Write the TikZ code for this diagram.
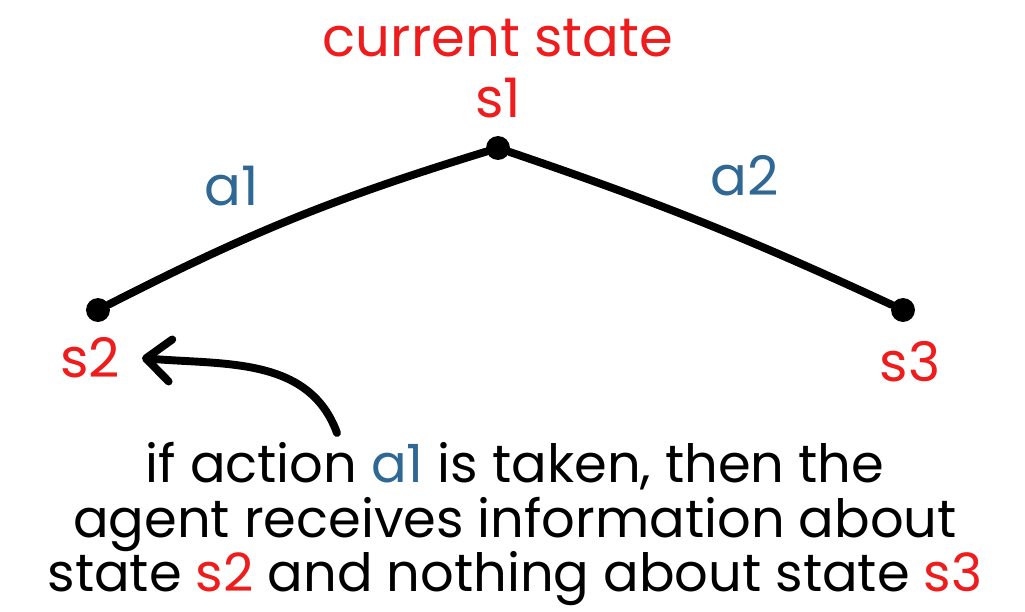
\documentclass[tikz,border=0pt]{standalone}
\usepackage{fontspec}
\setmainfont{Poppins}
\usepackage{tikz}
\usetikzlibrary{arrows.meta}
\definecolor{statered}{HTML}{EE1C1C}
\definecolor{actblue}{HTML}{2F6894}
\tikzset{
  dot/.style={circle, fill=black, inner sep=0pt, minimum size=24pt*0.567},
  edgeline/.style={line width=4.5pt, line cap=round},
  statelab/.style={text=statered, font=\fontsize{31}{34}\selectfont},
  actlab/.style={text=actblue, font=\fontsize{31}{34}\selectfont},
  pointer/.style={line width=4.5pt, line cap=round, -{Straight Barb[length=14pt,width=24pt,round]}}
}

\begin{document}
\begin{tikzpicture}[x=0.02cm, y=-0.02cm]
  \useasboundingbox (0,0) rectangle (1025,612);

  % states
  \node[statelab] (title) at (498,38) {current state};
  \node[statelab] (s1lab) at (498,98) {s1};
  \node[dot] (s1) at (498,148) {};
  \node[dot] (s2) at (98,310) {};
  \node[dot] (s3) at (903,310) {};
  \node[statelab] (s2lab) at (90,358) {s2};
  \node[statelab] (s3lab) at (910,362) {s3};

  % actions
  \draw[edgeline] (s2) to[bend left=5] (s1);
  \draw[edgeline] (s1) to[bend left=3] (s3);
  \node[actlab] (a1lab) at (232,186) {a1};
  \node[actlab] (a2lab) at (745,176) {a2};

  % explanation
  \node[align=center, font=\fontsize{30}{31}\selectfont] (note) at (515,524)
    {if action \textcolor{actblue}{a1} is taken, then the\\
     agent receives information about\\
     state \textcolor{statered}{s2} and nothing about state \textcolor{statered}{s3}};
  \coordinate (tail) at (337,433);
  \coordinate (tip) at (142,358);
  \draw[pointer] (tail) to[out=110, in=-5] (tip);

\end{tikzpicture}
\end{document}
